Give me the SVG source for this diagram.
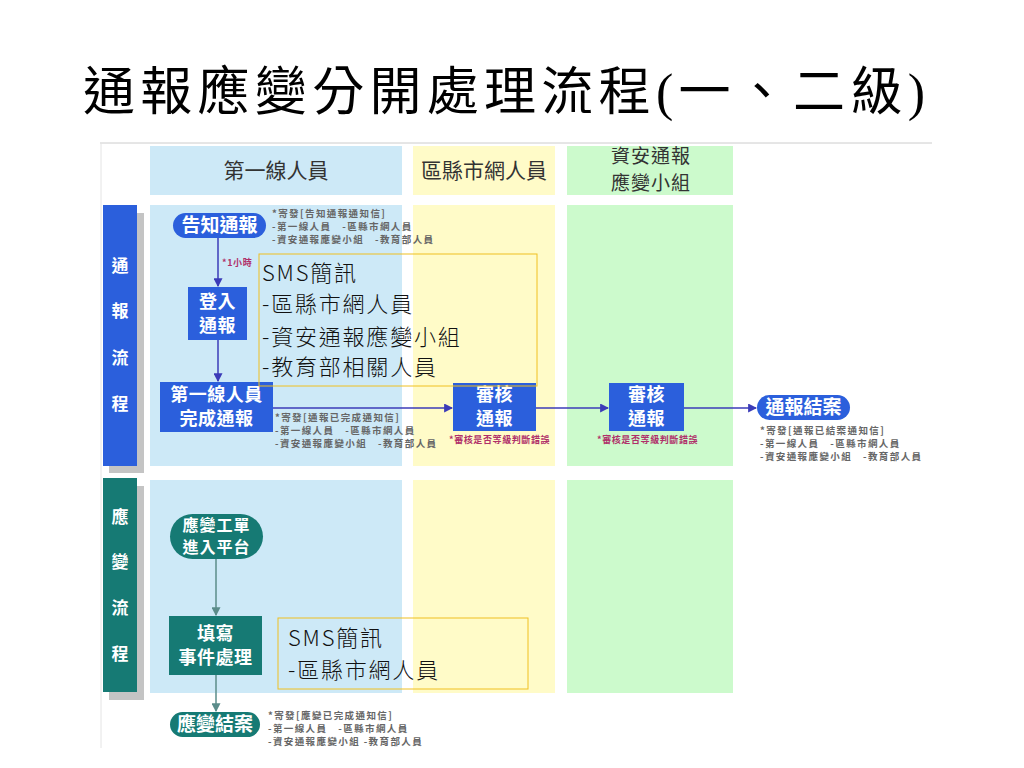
<svg xmlns="http://www.w3.org/2000/svg" width="1024" height="768" viewBox="0 0 1024 768">
<defs>
<style>
.cjk{font-family:"Noto Sans CJK TC","Noto Sans CJK SC",sans-serif}
.hdr{font-size:21px;fill:#333;text-anchor:middle}
.hdr2{font-size:19px;fill:#333;text-anchor:middle;letter-spacing:1px}
.side{font-size:17px;fill:#fff;text-anchor:middle;font-weight:bold}
.nt{font-size:19px;fill:#fff;text-anchor:middle;font-weight:bold}
.nt2{font-size:18px;fill:#fff;text-anchor:middle;font-weight:bold;letter-spacing:0.5px}
.nt3{font-size:16px;fill:#fff;text-anchor:middle;font-weight:bold;letter-spacing:1px}
.note{font-size:9.5px;fill:#666;font-weight:bold;letter-spacing:1.4px}
.warn{font-size:9px;fill:#b0306a;font-weight:bold;letter-spacing:0.6px}
.sms{font-size:22px;fill:#111;font-weight:300;letter-spacing:1.8px}
.blue{fill:#2b5fdc}
.teal{fill:#167a74}
.smsbox{fill:none;stroke:#f0c020;stroke-width:1}
.c1{stroke:#3b3bb8;stroke-width:1.5;fill:none}
.c2{stroke:#5b8c8a;stroke-width:1.5;fill:none}
</style>
<marker id="a1" viewBox="0 0 8 8" refX="7" refY="4" markerWidth="6" markerHeight="6" orient="auto"><path d="M0,0 L8,4 L0,8 z" fill="#3b3bb8"/></marker>
<marker id="a2" viewBox="0 0 8 8" refX="7" refY="4" markerWidth="6" markerHeight="6" orient="auto"><path d="M0,0 L8,4 L0,8 z" fill="#5b8c8a"/></marker>
</defs>
<rect width="1024" height="768" fill="#fff"/>
<text x="504" y="110" text-anchor="middle" font-size="52" font-family="'Liberation Serif','Noto Sans CJK TC',serif" fill="#000" textLength="842" lengthAdjust="spacing">通報應變分開處理流程(一、二級)</text>
<line x1="100" y1="143" x2="932" y2="143" stroke="#ccc" stroke-width="1"/>
<line x1="101" y1="143" x2="101" y2="748" stroke="#e4e4e4" stroke-width="1"/>

<g id="lanes">
<rect x="150" y="146" width="252" height="49" fill="#cde9f7"/>
<rect x="413" y="146" width="142" height="49" fill="#fffbc8"/>
<rect x="567" y="146" width="166" height="49" fill="#ccfacc"/>
<rect x="150" y="205" width="252" height="261" fill="#cde9f7"/>
<rect x="413" y="205" width="142" height="261" fill="#fffbc8"/>
<rect x="567" y="205" width="166" height="261" fill="#ccfacc"/>
<rect x="150" y="480" width="252" height="213" fill="#cde9f7"/>
<rect x="413" y="480" width="142" height="213" fill="#fffbc8"/>
<rect x="567" y="480" width="166" height="213" fill="#ccfacc"/>
<text class="cjk hdr" x="276" y="178">第一線人員</text>
<text class="cjk hdr" x="484" y="178">區縣市網人員</text>
<text class="cjk hdr2" x="651" y="163">資安通報</text>
<text class="cjk hdr2" x="651" y="190">應變小組</text>
</g>

<g id="lane-notify">
<rect x="109" y="213" width="35" height="260" fill="#c4c4c4"/>
<rect x="103" y="205" width="34" height="261" class="blue"/>
<text class="cjk side" x="120" y="272">通</text>
<text class="cjk side" x="120" y="317">報</text>
<text class="cjk side" x="120" y="364">流</text>
<text class="cjk side" x="120" y="410">程</text>
</g>
<g id="lane-response">
<rect x="109" y="486" width="35" height="214" fill="#c4c4c4"/>
<rect x="103" y="478" width="34" height="214" class="teal"/>
<text class="cjk side" x="120" y="523">應</text>
<text class="cjk side" x="120" y="568">變</text>
<text class="cjk side" x="120" y="614">流</text>
<text class="cjk side" x="120" y="660">程</text>
</g>

<g id="connectors">
<line class="c1" x1="218" y1="237" x2="218" y2="286" marker-end="url(#a1)"/>
<line class="c1" x1="218" y1="340" x2="218" y2="381" marker-end="url(#a1)"/>
<line class="c1" x1="273" y1="408" x2="452" y2="408" marker-end="url(#a1)"/>
<line class="c1" x1="536" y1="408" x2="608" y2="408" marker-end="url(#a1)"/>
<line class="c1" x1="684" y1="408" x2="756" y2="408" marker-end="url(#a1)"/>
<line class="c2" x1="216" y1="559" x2="216" y2="615" marker-end="url(#a2)"/>
<line class="c2" x1="216" y1="675" x2="216" y2="711" marker-end="url(#a2)"/>
<text class="cjk warn" x="222" y="266">*1小時</text>
</g>

<g id="n-inform">
<rect x="173" y="213" width="93" height="25" rx="12.5" class="blue"/>
<text class="cjk nt" x="219.5" y="232">告知通報</text>
<text class="cjk note" x="272" y="217">*寄發[告知通報通知信]</text>
<text class="cjk note" x="272" y="230">-第一線人員　-區縣市網人員</text>
<text class="cjk note" x="272" y="243">-資安通報應變小組　-教育部人員</text>
</g>
<g id="n-login">
<rect x="188" y="287" width="59" height="53" class="blue"/>
<text class="cjk nt2" x="217.5" y="308">登入</text>
<text class="cjk nt2" x="217.5" y="332">通報</text>
</g>
<g id="n-firstline">
<rect x="160" y="382" width="113" height="50" class="blue"/>
<text class="cjk nt2" x="216.5" y="401">第一線人員</text>
<text class="cjk nt2" x="216.5" y="425">完成通報</text>
<text class="cjk note" x="275" y="421">*寄發[通報已完成通知信]</text>
<text class="cjk note" x="275" y="434">-第一線人員　-區縣市網人員</text>
<text class="cjk note" x="275" y="447">-資安通報應變小組　-教育部人員</text>
</g>
<g id="n-review1">
<rect x="453" y="383" width="83" height="48" class="blue"/>
<text class="cjk nt2" x="494.5" y="401">審核</text>
<text class="cjk nt2" x="494.5" y="425">通報</text>
<text class="cjk warn" x="449" y="443">*審核是否等級判斷錯誤</text>
</g>
<g id="n-review2">
<rect x="609" y="383" width="75" height="48" class="blue"/>
<text class="cjk nt2" x="646.5" y="401">審核</text>
<text class="cjk nt2" x="646.5" y="425">通報</text>
<text class="cjk warn" x="597" y="443">*審核是否等級判斷錯誤</text>
</g>
<g id="n-close">
<rect x="757" y="395" width="93" height="25" rx="12.5" class="blue"/>
<text class="cjk nt" x="803.5" y="414">通報結案</text>
<text class="cjk note" x="760" y="434">*寄發[通報已結案通知信]</text>
<text class="cjk note" x="760" y="447">-第一線人員　-區縣市網人員</text>
<text class="cjk note" x="760" y="460">-資安通報應變小組　-教育部人員</text>
</g>

<g id="n-ticket">
<rect x="170" y="514" width="93" height="45" rx="22.5" class="teal"/>
<text class="cjk nt3" x="216.5" y="531">應變工單</text>
<text class="cjk nt3" x="216.5" y="553">進入平台</text>
</g>
<g id="n-fill">
<rect x="169" y="616" width="93" height="59" class="teal"/>
<text class="cjk nt2" x="215.5" y="640">填寫</text>
<text class="cjk nt2" x="215.5" y="664">事件處理</text>
</g>
<g id="n-respclose">
<rect x="170" y="712" width="90" height="25" rx="12.5" class="teal"/>
<text class="cjk nt" x="215" y="731">應變結案</text>
<text class="cjk note" x="268" y="719">*寄發[應變已完成通知信]</text>
<text class="cjk note" x="268" y="732">-第一線人員　-區縣市網人員</text>
<text class="cjk note" x="268" y="745">-資安通報應變小組 -教育部人員</text>
</g>

<g id="sms1">
<rect x="259" y="254" width="278" height="132" class="smsbox"/>
<text class="cjk sms" x="262" y="281">SMS簡訊</text>
<text class="cjk sms" x="262" y="312">-區縣市網人員</text>
<text class="cjk sms" x="262" y="345">-資安通報應變小組</text>
<text class="cjk sms" x="262" y="375">-教育部相關人員</text>
</g>
<g id="sms2">
<rect x="278" y="618" width="250" height="71" class="smsbox"/>
<text class="cjk sms" x="288" y="646">SMS簡訊</text>
<text class="cjk sms" x="288" y="678">-區縣市網人員</text>
</g>
</svg>
